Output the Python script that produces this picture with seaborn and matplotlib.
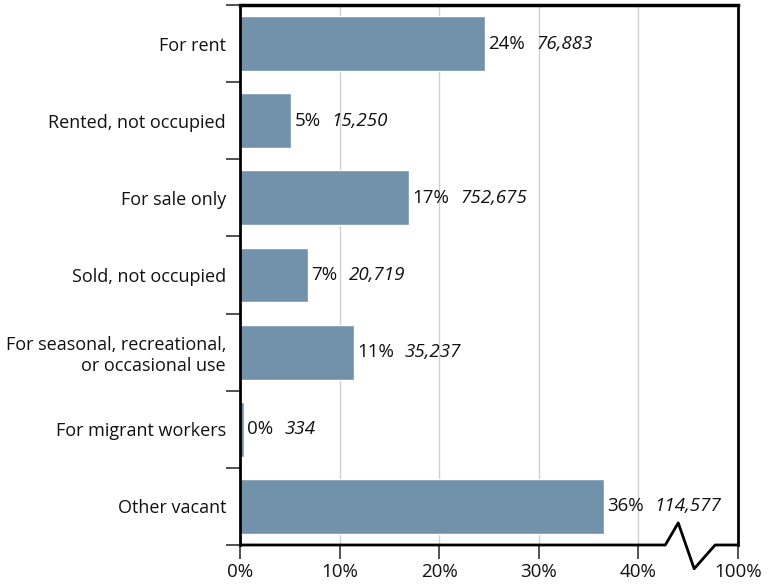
import matplotlib
matplotlib.use("Agg")
import matplotlib.pyplot as plt
import matplotlib.transforms as mtransforms
import seaborn as sns
import pandas as pd

# vacancy status data
categories = ["For rent", "Rented, not occupied", "For sale only", "Sold, not occupied",
              "For seasonal, recreational,\nor occasional use", "For migrant workers", "Other vacant"]
share_pct = [24.6, 5.1, 17.0, 6.8, 11.4, 0.4, 36.5]
pct_labels = ["24%", "5%", "17%", "7%", "11%", "0%", "36%"]
count_labels = ["76,883", "15,250", "752,675", "20,719", "35,237", "334", "114,577"]
x_ticks = [0, 10, 20, 30, 40, 50]
x_tick_labels = ["0%", "10%", "20%", "30%", "40%", "100%"]

df = pd.DataFrame({"category": categories, "share": share_pct})

sns.set_theme(style="white")
plt.rcParams["font.family"] = ["Open Sans", "DejaVu Sans"]

fig = plt.figure(figsize=(7.72, 5.88), dpi=100)
ax = fig.add_axes([240 / 772, 1 - 545 / 588, 498 / 772, 540 / 588])

sns.barplot(data=df, x="share", y="category", orient="h", color="#7292ab",
            width=0.71, saturation=1, ax=ax, zorder=2)

ax.set_xlim(0, 50)
ax.set_ylim(6.5, -0.5)
ax.set_xlabel("")
ax.set_ylabel("")

# grid lines at 10..40
for g in x_ticks[1:-1]:
    ax.axvline(g, color="#d0d0d0", lw=1, zorder=0)

fs = 13
ax.set_xticks(x_ticks)
ax.set_xticklabels(x_tick_labels, fontsize=13.5, color="#111111")
ax.tick_params(axis="x", length=10, width=1.2, color="#333333", pad=3, bottom=True)

ax.set_yticks(range(len(categories)))
ax.set_yticklabels(categories, fontsize=fs, ha="right", color="#111111")
ax.tick_params(axis="y", which="major", length=0, pad=10)
ax.set_yticks([i - 0.5 for i in range(len(categories) + 1)], minor=True)
ax.tick_params(axis="y", which="minor", length=10, width=1.2, color="#333333", left=True)

for lbl in ax.get_yticklabels():
    lbl.set_multialignment("right")

# spines
for side in ["top", "left", "right"]:
    ax.spines[side].set_visible(True)
    ax.spines[side].set_color("black")
ax.spines["top"].set_linewidth(2.5)
ax.spines["left"].set_linewidth(2)
ax.spines["right"].set_linewidth(2)
ax.spines["bottom"].set_visible(False)

# broken bottom axis
trans = mtransforms.blended_transform_factory(ax.transData, ax.transAxes)
ax.plot([0, 42.7, 44.0, 45.6, 47.7, 50], [0, 0, 0.041, -0.044, 0, 0],
        color="black", lw=2, transform=trans, clip_on=False, zorder=5)

# value labels
for i, (v, p, c) in enumerate(zip(share_pct, pct_labels, count_labels)):
    t = ax.annotate(p, xy=(v, i), xytext=(2.5, 0), textcoords="offset points",
                    va="center", ha="left", fontsize=13.5, color="#111111")
    ax.annotate(c, xy=(1, 0.5), xycoords=t, xytext=(8, 0), textcoords="offset points",
                va="center", ha="left", fontsize=13.5, style="italic", color="#111111")

fig.savefig("out.png", dpi=100)
